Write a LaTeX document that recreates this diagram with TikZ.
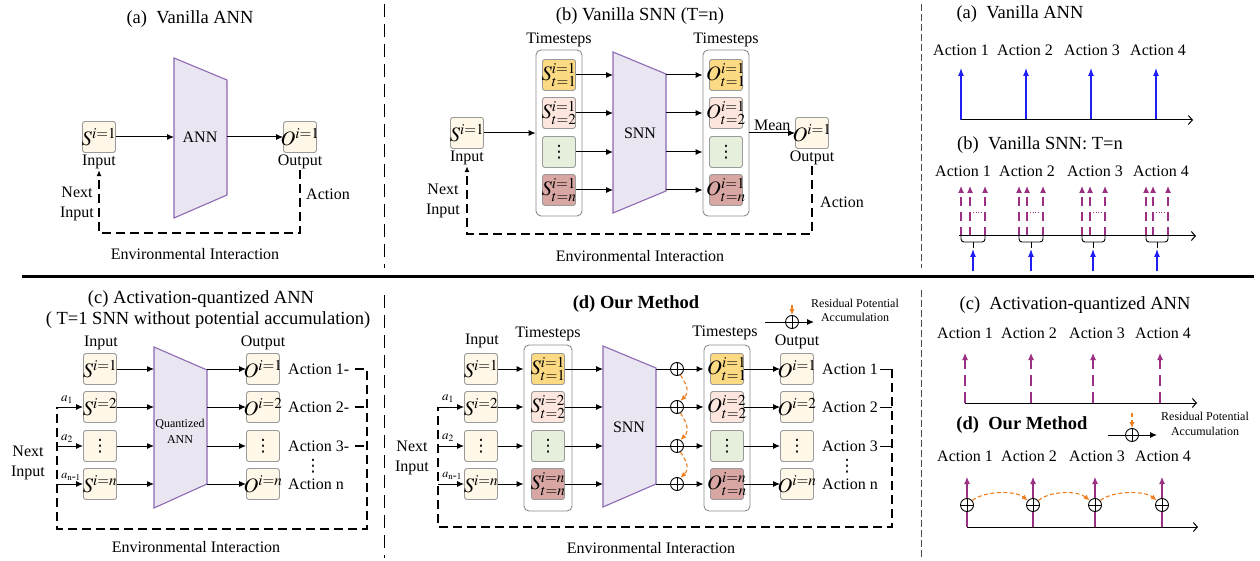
\documentclass[tikz,border=0pt]{standalone}
\usepackage{mathptmx}
\usepackage{fontspec}
\setmainfont{Liberation Serif}
\newfontfamily\dotsfont{DejaVu Sans}
\usetikzlibrary{arrows.meta}

\definecolor{boxline}{HTML}{9A9A9A}
\definecolor{grpline}{HTML}{8C8C8C}
\definecolor{cream}{HTML}{FFF8E8}
\definecolor{gold}{HTML}{FCD983}
\definecolor{blush}{HTML}{FCE6DE}
\definecolor{mint}{HTML}{E6EFDC}
\definecolor{rose}{HTML}{D9A7A3}
\definecolor{lavfill}{HTML}{E9E5F1}
\definecolor{lavline}{HTML}{8D6AB3}
\definecolor{plum}{HTML}{9B2F82}
\definecolor{spikeblue}{HTML}{1F1FF5}
\definecolor{accorange}{HTML}{EE7D1D}

% cell contents are centred without widening the cell
\newcommand{\cellm}[1]{\makebox[0pt]{$#1$}}
\newcommand{\tallvdots}{{\dotsfont\fontsize{17}{17}\selectfont ⋮}}

\begin{document}
\begin{tikzpicture}[x=1pt,y=-1pt,
  every node/.style={font=\fontsize{16}{19}\selectfont, inner sep=1pt},
  cell/.style={draw=boxline, fill=cream, rounded corners=2.5pt, line width=0.9pt,
    minimum width=33pt, minimum height=31pt, inner sep=0pt, font=\fontsize{20.5}{20}\selectfont},
  grp/.style={draw=grpline, fill=white, rounded corners=5pt, line width=0.9pt,
    minimum width=46pt, minimum height=166pt, inner sep=0pt},
  trap/.style={draw=lavline, fill=lavfill, line width=1.1pt, line join=miter},
  arr/.style={line width=1pt, -{Latex[length=7pt,width=6pt]}},
  link/.style={line width=1pt},
  envline/.style={line width=1.2pt, dash pattern=on 9pt off 5pt},
  envarr/.style={envline, -{Latex[length=6pt,width=5pt]}},
  divider/.style={line width=1pt, dash pattern=on 13pt off 7pt},
  finediv/.style={line width=1pt, draw=black!70, dash pattern=on 7pt off 3pt},
  heading/.style={font=\fontsize{18.5}{20}\selectfont},
  boldhead/.style={font=\fontsize{18.5}{20}\selectfont\bfseries},
  note/.style={font=\fontsize{12}{14}\selectfont},
  twoline/.style={align=center, font=\fontsize{16}{20}\selectfont},
  sublab/.style={font=\fontsize{13}{13}\selectfont, inner sep=0pt},
  oplus/.style={circle, draw, fill=white, line width=0.9pt, minimum size=13pt, inner sep=0pt,
    path picture={\draw[line width=0.8pt] (path picture bounding box.north) -- (path picture bounding box.south)
      (path picture bounding box.west) -- (path picture bounding box.east);}},
  tline/.style={line width=1pt, -{Straight Barb[length=4pt,width=9pt]}},
  barr/.style={spikeblue, line width=1.1pt, -{Latex[length=8pt,width=6pt]}},
  parr/.style={plum, line width=1.1pt, -{Latex[length=7pt,width=6pt]}},
  pdash/.style={parr, dash pattern=on 9pt off 6pt},
  oarr/.style={accorange, line width=1.1pt, dash pattern=on 4pt off 2.5pt, -{Latex[length=6pt,width=5pt]}},
]
\useasboundingbox (0,0) rectangle (1260,561);

% ================= separators =================
\coordinate (v1a) at (384,4);   \coordinate (v1b) at (384,268);
\coordinate (v1c) at (384,295); \coordinate (v1d) at (384,558);
\coordinate (v2a) at (921,4);   \coordinate (v2b) at (921,268);
\coordinate (v2c) at (921,290); \coordinate (v2d) at (921,558);
\draw[divider] (v1a) -- (v1b);
\draw[divider] (v1c) -- (v1d);
\draw[finediv] (v2a) -- (v2b);
\draw[finediv] (v2c) -- (v2d);
\coordinate (hL) at (22,276); \coordinate (hR) at (1254,276);
\draw[line width=3pt] (hL) -- (hR);

% ================= (a) Vanilla ANN =================
\node[heading] (aTitle) at (190,19) {(a)\ \ Vanilla ANN};
\coordinate (aTL) at (174,58);  \coordinate (aTR) at (227,80);
\coordinate (aBR) at (227,195); \coordinate (aBL) at (174,218);
\draw[trap] (aTL) -- (aTR) -- (aBR) -- (aBL) -- cycle;
\node (aNet) at (200,137) {ANN};
\node[cell] (aS) at (99,137) {\cellm{S^{i=1}}};
\node (aIn) at (99,162) {Input};
\node[cell] (aO) at (300,137) {\cellm{O^{i=1}}};
\node (aOut) at (300,162) {Output};
\draw[arr] (aS) -- (aTL |- aS);
\draw[arr] (aTR |- aO) -- (aO);
\coordinate (aLR) at (300,233); \coordinate (aLL) at (99,233);
\draw[envarr] (aOut.south) -- (aLR) -- (aLL) -- (aIn.south);
\node[twoline] (aNext) at (77,204) {Next\\Input};
\node (aAct) at (328,194) {Action};
\node (aEnv) at (195,254) {Environmental Interaction};

% ================= (b) Vanilla SNN =================
\node[heading] (bTitle) at (640,16) {(b) Vanilla SNN (T=n)};
\node[cell] (bS) at (467,133) {\cellm{S^{i=1}}};
\node (bIn) at (467,158) {Input};
\node[grp] (bGS) at (559,133) {};
\node (bTsS) at (559,40) {Timesteps};
\node[cell,fill=gold]  (bS1) at (559,75)  {\cellm{S^{i=1}_{t=1}}};
\node[cell,fill=blush] (bS2) at (559,113) {\cellm{S^{i=1}_{t=2}}};
\node[cell,fill=mint]  (bS3) at (559,152) {\tallvdots};
\node[cell,fill=rose]  (bS4) at (559,190) {\cellm{S^{i=1}_{\vphantom{1}t=n}}};
\draw[arr] (bS) -- (bGS);
\coordinate (bNTL) at (613,52);  \coordinate (bNTR) at (666,74);
\coordinate (bNBR) at (666,191); \coordinate (bNBL) at (613,213);
\draw[trap] (bNTL) -- (bNTR) -- (bNBR) -- (bNBL) -- cycle;
\node (bNet) at (640,133) {SNN};
\foreach \k in {1,...,4} \draw[arr] (bS\k) -- (bNTL |- bS\k);
\node[grp] (bGO) at (726,133) {};
\node (bTsO) at (726,40) {Timesteps};
\node[cell,fill=gold]  (bO1) at (726,75)  {\cellm{O^{i=1}_{t=1}}};
\node[cell,fill=blush] (bO2) at (726,113) {\cellm{O^{i=1}_{t=2}}};
\node[cell,fill=mint]  (bO3) at (726,152) {\tallvdots};
\node[cell,fill=rose]  (bO4) at (726,190) {\cellm{O^{i=1}_{\vphantom{1}t=n}}};
\foreach \k in {1,...,4} \draw[arr] (bNTR |- bO\k) -- (bGO.west |- bO\k);
\node[cell] (bO) at (812,133) {\cellm{O^{i=1}}};
\node (bOut) at (812,158) {Output};
\draw[arr] (bGO) -- (bO) node[midway, above=1pt] (bMean) {Mean};
\coordinate (bLR) at (812,234); \coordinate (bLL) at (467,234);
\draw[envarr] (bOut.south) -- (bLR) -- (bLL) -- (bIn.south);
\node[twoline] (bNext) at (443,201) {Next\\Input};
\node (bAct) at (842,202) {Action};
\node (bEnv) at (640,256) {Environmental Interaction};

% ================= timeline: vanilla ANN =================
\node[heading] (raTitle) at (1020,14) {(a)\ \ Vanilla ANN};
\foreach \x [count=\k] in {961,1025,1092,1158} \node (raA\k) at (\x,50) {Action \k};
\foreach \x [count=\k] in {961,1026,1091,1156} {
  \coordinate (raB\k) at (\x,120); \coordinate (raT\k) at (\x,68);
  \draw[barr] (raB\k) -- (raT\k);}
\coordinate (raX0) at (961,120); \coordinate (raX1) at (1193,120);
\draw[tline] (raX0) -- (raX1);

% ================= timeline: vanilla SNN =================
\node[heading] (rbTitle) at (1040,145) {(b)\ \ Vanilla SNN: T=n};
\foreach \x [count=\k] in {963,1027,1095,1161} \node (rbA\k) at (\x,171) {Action \k};
\foreach \p/\q/\r/\m/\k in {961/970/985/973/1, 1019/1027/1043/1031/2, 1082/1090/1105/1093/3, 1146/1153/1168/1157/4} {
  \foreach \u in {\p,\q,\r} \draw[pdash] (\u,236) -- (\u,186);
  \draw[plum, line width=0.8pt, dash pattern=on 1pt off 1.6pt] (\q+3,212) -- (\r-3,212);
  \draw[line width=0.9pt, rounded corners=3pt] (\p,236) -- (\p,242) -- (\r,242) -- (\r,236);
  \coordinate (rbM\k) at (\m,242);
  \coordinate (rbK\k) at (\m,248);
  \coordinate (rbTip\k) at (\m,249);
  \coordinate (rbBot\k) at (\m,271);
  \draw[line width=0.9pt] (rbM\k) -- (rbK\k);
  \draw[barr] (rbBot\k) -- (rbTip\k);}
\coordinate (rbX0) at (959,236); \coordinate (rbX1) at (1196,236);
\draw[tline] (rbX0) -- (rbX1);

% ================= (c) Activation-quantized ANN =================
\node[heading] (cT1) at (201,299) {(c) Activation-quantized ANN};
\node[heading] (cT2) at (208,320) {( T=1 SNN without potential accumulation)};
\node (cIn) at (101,343) {Input};
\node (cOutL) at (263,343) {Output};
\node[cell] (cS1) at (100,369) {\cellm{S^{i=1}}};
\node[cell] (cS2) at (100,407) {\cellm{S^{i=2}}};
\node[cell] (cS3) at (100,446) {\tallvdots};
\node[cell] (cS4) at (100,484) {\cellm{S^{i=n}}};
\coordinate (cNTL) at (154,347); \coordinate (cNTR) at (207,370);
\coordinate (cNBR) at (207,484); \coordinate (cNBL) at (154,508);
\draw[trap] (cNTL) -- (cNTR) -- (cNBR) -- (cNBL) -- cycle;
\node[note, align=center, font=\fontsize{12}{16}\selectfont] (cNet) at (180,431) {Quantized\\ANN};
\foreach \k in {1,...,4} \draw[arr] (cS\k) -- (cNTL |- cS\k);
\node[cell] (cO1) at (263,369) {\cellm{O^{i=1}}};
\node[cell] (cO2) at (263,407) {\cellm{O^{i=2}}};
\node[cell] (cO3) at (263,446) {\tallvdots};
\node[cell] (cO4) at (263,484) {\cellm{O^{i=n}}};
\foreach \k in {1,...,4} \draw[arr] (cNTR |- cO\k) -- (cO\k);
\node[anchor=west] (cA1) at (287,369) {Action 1-};
\node[anchor=west] (cA2) at (287,407) {Action 2-};
\node[anchor=west] (cA3) at (287,446) {Action 3-};
\node[anchor=west] (cA4) at (287,484) {Action n};
\node (cVd) at (313,466) {\tallvdots};
\coordinate (cLTR) at (367,369); \coordinate (cLBR) at (367,529);
\coordinate (cLBL) at (57,529);  \coordinate (cLTL) at (57,407);
\draw[envline, shorten <=5pt] (cA1.east) -- (cLTR) -- (cLBR) -- (cLBL) -- (cLTL);
\draw[envline, shorten <=5pt] (cA2.east) -- (cLTR |- cA2);
\draw[envline, shorten <=5pt] (cA3.east) -- (cLTR |- cA3);
\draw[arr] (cLTL) -- (cS2);
\draw[arr] (cLBL |- cS3) -- (cS3);
\draw[arr] (cLBL |- cS4) -- (cS4);
\node[sublab] (ca1) at (67,400) {$a_1$};
\node[sublab] (ca2) at (67,439) {$a_2$};
\node[sublab, font=\fontsize{12}{12}\selectfont] (ca3) at (71,477) {$a_{\mathrm{n}\textrm{-}1}$};
\node[twoline] (cNext) at (28,463) {Next\\Input};
\node (cEnv) at (196,547) {Environmental Interaction};

% ================= (d) Our Method =================
\node[boldhead] (dTitle) at (636,304) {(d) Our Method};
\node[oplus] (dKey) at (792,322) {};
\coordinate (dKeyTop) at (792,305);
\draw[oarr] (dKeyTop) -- (dKey.north);
\coordinate (dKeyL) at (765,322); \coordinate (dKeyR) at (814,322);
\draw[link] (dKeyL) -- (dKey.west);
\draw[arr] (dKey.east) -- (dKeyR);
\node[note, align=center] (dKeyTxt) at (855,310) {Residual Potential\\Accumulation};

\node (dIn) at (482,341) {Input};
\node[cell] (dS1) at (481,369) {\cellm{S^{i=1}}};
\node[cell] (dS2) at (481,407) {\cellm{S^{i=2}}};
\node[cell] (dS3) at (481,446) {\tallvdots};
\node[cell] (dS4) at (481,484) {\cellm{S^{i=n}}};
\node[grp, minimum width=48pt] (dGS) at (548,428) {};
\node (dTsS) at (548,334) {Timesteps};
\node[cell,fill=gold]  (dSt1) at (548,369) {\cellm{S^{i=1}_{t=1}}};
\node[cell,fill=blush] (dSt2) at (548,407) {\cellm{S^{i=2}_{t=2}}};
\node[cell,fill=mint]  (dSt3) at (548,446) {\tallvdots};
\node[cell,fill=rose]  (dSt4) at (548,484) {\cellm{S^{i=n}_{\vphantom{1}t=n}}};
\foreach \k in {1,...,4} \draw[arr] (dS\k) -- (dGS.west |- dS\k);
\coordinate (dNTL) at (603,346); \coordinate (dNTR) at (656,368);
\coordinate (dNBR) at (656,484); \coordinate (dNBL) at (603,507);
\draw[trap] (dNTL) -- (dNTR) -- (dNBR) -- (dNBL) -- cycle;
\node (dNet) at (629,427) {SNN};
\foreach \k in {1,...,4} \draw[arr] (dSt\k) -- (dNTL |- dSt\k);
\node[grp] (dGO) at (727,428) {};
\node (dTsO) at (725,333) {Timesteps};
\foreach \y [count=\k] in {369,407,446,484} {
  \node[oplus] (dC\k) at (677,\y) {};
  \draw[link] (dNTR |- dC\k) -- (dC\k.west);
  \draw[arr] (dC\k.east) -- (dGO.west |- dC\k);}
\foreach \i/\j in {1/2,2/3,3/4}
  \draw[oarr] (dC\i.-60) .. controls +(5,8) and +(10,-10) .. (dC\j.60);
\node[cell,fill=gold]  (dOt1) at (727,369) {\cellm{O^{i=1}_{t=1}}};
\node[cell,fill=blush] (dOt2) at (727,407) {\cellm{O^{i=2}_{t=2}}};
\node[cell,fill=mint]  (dOt3) at (727,446) {\tallvdots};
\node[cell,fill=rose]  (dOt4) at (727,484) {\cellm{O^{i=n}_{\vphantom{1}t=n}}};
\node (dOutL) at (797,342) {Output};
\node[cell] (dO1) at (797,369) {\cellm{O^{i=1}}};
\node[cell] (dO2) at (797,407) {\cellm{O^{i=2}}};
\node[cell] (dO3) at (797,446) {\tallvdots};
\node[cell] (dO4) at (797,484) {\cellm{O^{i=n}}};
\foreach \k in {1,...,4} \draw[arr] (dOt\k) -- (dO\k);
\node[anchor=west] (dA1) at (821,369) {Action 1};
\node[anchor=west] (dA2) at (821,407) {Action 2};
\node[anchor=west] (dA3) at (821,446) {Action 3};
\node[anchor=west] (dA4) at (821,484) {Action n};
\node (dVd) at (847,466) {\tallvdots};
\coordinate (dLTR) at (892,369); \coordinate (dLBR) at (892,527);
\coordinate (dLBL) at (438,527); \coordinate (dLTL) at (438,407);
\foreach \k in {1,2,3} \draw[link, shorten <=1pt] (dA\k.east) -- (dLTR |- dA\k);
\draw[envline] (dLTR) -- (dLBR) -- (dLBL) -- (dLTL);
\draw[arr] (dLTL) -- (dS2);
\draw[arr] (dLBL |- dS3) -- (dS3);
\draw[arr] (dLBL |- dS4) -- (dS4);
\node[sublab] (da1) at (448,399) {$a_1$};
\node[sublab] (da2) at (448,438) {$a_2$};
\node[sublab, font=\fontsize{12}{12}\selectfont] (da3) at (452,476) {$a_{\mathrm{n}\textrm{-}1}$};
\node[twoline] (dNext) at (412,458) {Next\\Input};
\node (dEnv) at (651,548) {Environmental Interaction};

% ================= timeline: activation-quantized ANN =================
\node[heading] (rcTitle) at (1075,305) {(c)\ \ Activation-quantized ANN};
\foreach \x [count=\k] in {965,1029,1097,1163} \node (rcA\k) at (\x,333) {Action \k};
\foreach \x [count=\k] in {965,1031,1093,1160} {
  \coordinate (rcB\k) at (\x,403); \coordinate (rcT\k) at (\x,353);
  \draw[pdash, dash pattern=on 11pt off 6pt] (rcB\k) -- (rcT\k);}
\coordinate (rcX0) at (965,403); \coordinate (rcX1) at (1197,403);
\draw[tline] (rcX0) -- (rcX1);

% ================= timeline: our method =================
\node[boldhead] (rdTitle) at (1022,425) {(d)\ \ Our Method};
\node[oplus] (rdKey) at (1132,435) {};
\coordinate (rdKeyTop) at (1132,413);
\draw[oarr] (rdKeyTop) -- (rdKey.north);
\coordinate (rdKeyL) at (1108,435); \coordinate (rdKeyR) at (1157,435);
\draw[link] (rdKeyL) -- (rdKey.west);
\draw[arr] (rdKey.east) -- (rdKeyR);
\node[note, align=center, font=\fontsize{12}{15}\selectfont] (rdKeyTxt) at (1205,424) {Residual Potential\\Accumulation};
\foreach \x [count=\k] in {965,1029,1097,1163} \node (rdA\k) at (\x,456) {Action \k};
\foreach \x [count=\k] in {967,1033,1095,1162} {
  \node[oplus] (rdC\k) at (\x,505) {};
  \coordinate (rdT\k) at (\x,477); \coordinate (rdB\k) at (\x,527);
  \draw[parr] (rdC\k.north) -- (rdT\k);
  \draw[plum, line width=1.1pt] (rdC\k.south) -- (rdB\k);}
\coordinate (rdX0) at (967,527); \coordinate (rdX1) at (1198,527);
\draw[tline] (rdX0) -- (rdX1);
\foreach \i/\j in {1/2,2/3,3/4}
  \draw[oarr] (rdC\i.40) .. controls +(12,-10) and +(-12,-10) .. (rdC\j.140);

\end{tikzpicture}
\end{document}
